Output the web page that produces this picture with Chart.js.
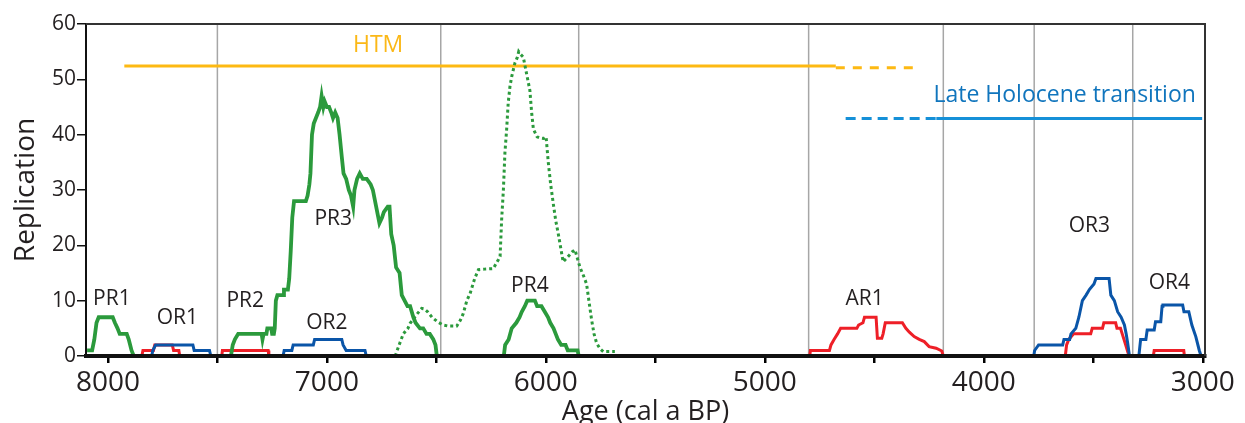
<!DOCTYPE html>
<html>
<head>
<meta charset="utf-8">
<script src="https://cdn.jsdelivr.net/npm/chart.js@4.4.1/dist/chart.umd.min.js"></script>
<style>
  html, body { margin: 0; padding: 0; background: #ffffff; }
  #chart { display: block; }
</style>
</head>
<body>
<canvas id="chart" width="1245" height="423"></canvas>
<script>
// ---- Replication counts through time: [age (cal a BP), count] ----
const PR1 = [[8095,1],[8072,1],[8062,3],[8052,6],[8042,7],[8028,7],[7978,7],[7968,6],[7956,5],[7946,4],[7914,4],[7905,3],[7892,1],[7882,0]];
const PR2_PR3 = [[7438,0],[7430,2],[7420,3],[7405,4],[7298,4],[7294,3],[7289,4],[7276,4],[7272,5],[7254,5],[7250,4],[7242,4],[7238,5],[7233,10],[7226,11],[7200,11],[7196,12],[7178,12],[7172,14],[7165,19],[7158,25],[7150,28],[7096,28],[7088,29],[7080,31],[7075,33],[7068,40],[7060,42],[7050,43],[7040,44],[7031,45],[7024,47],[7016,45],[7010,46],[7000,45],[6990,45],[6980,44],[6972,43],[6962,44],[6951,43],[6942,40],[6932,36],[6924,33],[6912,32],[6900,30],[6890,29],[6880,27],[6874,30],[6862,32],[6850,33],[6836,32],[6818,32],[6800,31],[6790,30],[6775,27],[6760,24],[6748,25],[6740,26],[6722,27],[6714,27],[6706,22],[6695,20],[6684,16],[6668,15],[6658,11],[6645,10],[6632,9],[6620,9],[6605,7],[6595,6],[6575,5],[6560,5],[6545,4],[6530,4],[6514,3],[6504,2],[6498,0]];
const PR4 = [[6300,0],[6192,0],[6186,2],[6170,3],[6156,5],[6135,6],[6120,7],[6110,8],[6096,9],[6085,10],[6050,10],[6040,9],[6020,9],[6005,8],[5990,7],[5980,6],[5965,5],[5955,4],[5945,3],[5930,2],[5910,2],[5900,1],[5855,1],[5850,0]];
const PR_ALL = [[6688,0],[6670,2],[6651,4],[6630,5],[6620,5.9],[6590,7.5],[6567,8.6],[6555,8.5],[6540,8],[6520,7],[6495,6.2],[6470,5.6],[6445,5.4],[6407,5.4],[6390,6.5],[6377,7.7],[6361,10],[6346,11.3],[6325,14],[6308,15.6],[6280,15.7],[6240,15.8],[6217,17.4],[6209,18],[6202,24.6],[6194,30],[6187,36.7],[6179,41],[6172,45.7],[6164,48.7],[6156,50.5],[6141,53],[6130,54],[6124,55],[6115,54.5],[6103,54],[6088,51],[6073,48],[6065,44],[6057,41],[6040,39.6],[6027,39.4],[6010,39.3],[5999,39.6],[5989,35],[5978,31],[5966,27.5],[5955,24.5],[5943,22],[5932,19.5],[5921,17],[5910,17.5],[5898,18],[5880,18.8],[5867,19.2],[5855,17.5],[5844,16],[5828,14.5],[5814,13],[5800,9],[5791,6.5],[5780,4],[5768,2.3],[5752,1.3],[5738,0.8],[5685,0.8]];

const OR1_R = [[7845,0],[7840,1],[7792,1],[7786,2],[7706,2],[7700,1],[7676,1],[7672,0]];
const PR2_R = [[7480,0],[7477,1],[7268,1],[7265,0]];
const AR1 = [[4795,0],[4792,1],[4705,1],[4698,2],[4684,3],[4668,4],[4654,5],[4580,5],[4572,5.6],[4552,6],[4545,7],[4492,7],[4486,3.2],[4466,3.2],[4460,4],[4450,6],[4372,6],[4356,5],[4340,4.3],[4318,3.5],[4295,3],[4272,2.6],[4250,1.7],[4218,1.4],[4192,0.9],[4185,0]];
const OR3_R = [[3628,0],[3622,2],[3612,3],[3590,4],[3512,4],[3505,5],[3458,5],[3452,6],[3398,6],[3392,5],[3376,5],[3368,4],[3352,2],[3337,0]];
const OR4_R = [[3226,0],[3222,1],[3087,1],[3084,0]];

const OR1_B = [[7800,0],[7795,1],[7782,2],[7612,2],[7606,1],[7536,1],[7530,0]];
const OR2_B = [[7200,0],[7195,1],[7160,1],[7154,2],[7062,2],[7056,3],[6932,3],[6926,2],[6912,1],[6826,1],[6820,0]];
const OR3_B = [[3900,0],[3772,0],[3768,1],[3750,2],[3640,2],[3634,3],[3608,3],[3602,4],[3580,5],[3566,7],[3550,10],[3533,11],[3518,12],[3497,13],[3488,14],[3428,14],[3420,11],[3404,10],[3389,8],[3373,7],[3358,5.6],[3350,4],[3343,2.3],[3335,0]];
const OR4_B = [[3292,0],[3284,3],[3260,3],[3254,4.7],[3222,4.7],[3216,6.2],[3192,6.2],[3186,9],[3182,9.2],[3092,9.2],[3086,8],[3064,8],[3050,5.6],[3032,3.5],[3016,1],[3008,0]];

// Climate phases
const HTM_FIRM = [[7925,52.4],[4676,52.4]];
const HTM_FUZZY = [[4676,52.1],[4316,52.1]];
const LHT_FUZZY = [[4631,42.9],[4217,42.9]];
const LHT_FIRM = [[4217,42.9],[3003,42.9]];

// Period boundaries (cal a BP)
const BOUNDARIES = [7500, 6480, 5850, 4800, 4185, 3770, 3320];

// Axis ticks
const X_TICKS = [8000, 7500, 7000, 6500, 6000, 5500, 5000, 4500, 4000, 3500, 3000];
const X_LABELED = [8000, 7000, 6000, 5000, 4000, 3000];
const Y_TICKS = [0, 10, 20, 30, 40, 50, 60];

// Label anchors [text, age, count]
const LABELS = [
  ['PR1', 7982, 10.3], ['OR1', 7683, 6.9], ['PR2', 7373, 9.9], ['OR2', 7000, 6.0],
  ['PR3', 6971, 24.8], ['PR4', 6073, 12.6], ['AR1', 4544, 10.3], ['OR3', 3518, 23.5],
  ['OR4', 3153, 13.2]
];
const PHASE_LABELS = [
  ['HTM', 6766, 56.1, '#fbb817'],
  ['Late Holocene transition', 3631, 47.0, '#1075bd']
];

const GREEN = '#2b9a3c', RED = '#ee1f27', BLUE = '#0a55a8';
const FONT = '"Open Sans", "Noto Sans", sans-serif';
const INK = '#231f20';

const pts = arr => arr.map(([x, y]) => ({ x, y }));
function series(data, color, width, dash) {
  return {
    data: pts(data), borderColor: color, borderWidth: width, borderDash: dash || [],
    pointRadius: 0, fill: false, tension: 0, borderCapStyle: 'butt', borderJoinStyle: 'miter'
  };
}

const datasets = [
  series(PR1, GREEN, 3.8), series(PR2_PR3, GREEN, 3.8), series(PR4, GREEN, 3.8),
  series(PR_ALL, GREEN, 3, [3, 3]),
  series(OR1_B, BLUE, 3), series(OR2_B, BLUE, 3), series(OR3_B, BLUE, 3), series(OR4_B, BLUE, 3),
  series(OR1_R, RED, 3), series(PR2_R, RED, 3), series(AR1, RED, 3), series(OR3_R, RED, 3), series(OR4_R, RED, 3),
  series(HTM_FIRM, '#fdb913', 3), series(HTM_FUZZY, '#fdb913', 3, [9, 8]),
  series(LHT_FUZZY, '#1590d8', 3, [10, 6]), series(LHT_FIRM, '#1590d8', 3)
];

// Boundaries under the data, frame and labels over it
const decorations = {
  id: 'decorations',
  beforeDatasetsDraw(chart) {
    const { ctx, chartArea: a, scales: { x } } = chart;
    ctx.save();
    ctx.strokeStyle = '#a6a6a6';
    ctx.lineWidth = 1.5;
    BOUNDARIES.forEach(v => {
      const px = x.getPixelForValue(v);
      ctx.beginPath(); ctx.moveTo(px, a.top); ctx.lineTo(px, a.bottom); ctx.stroke();
    });
    ctx.restore();
  },
  afterDraw(chart) {
    const { ctx, chartArea: a, scales: { x, y } } = chart;
    ctx.save();
    ctx.strokeStyle = '#333333';
    ctx.lineWidth = 2;
    ctx.beginPath();
    ctx.moveTo(a.left, a.top); ctx.lineTo(a.right, a.top); ctx.lineTo(a.right, a.bottom);
    ctx.stroke();
    ctx.textAlign = 'center';
    ctx.textBaseline = 'middle';
    ctx.fillStyle = INK;
    ctx.font = '21px ' + FONT;
    LABELS.forEach(([t, vx, vy]) => ctx.fillText(t, x.getPixelForValue(vx), y.getPixelForValue(vy)));
    ctx.font = '23px ' + FONT;
    PHASE_LABELS.forEach(([t, vx, vy, c]) => {
      ctx.fillStyle = c;
      ctx.fillText(t, x.getPixelForValue(vx), y.getPixelForValue(vy));
    });
    ctx.restore();
  }
};

new Chart(document.getElementById('chart'), {
  type: 'line',
  data: { datasets },
  plugins: [decorations],
  options: {
    responsive: false,
    animation: false,
    devicePixelRatio: 1,
    layout: { padding: { left: 0, right: 40, top: 24, bottom: 0 } },
    plugins: { legend: { display: false }, tooltip: { enabled: false } },
    scales: {
      x: {
        type: 'linear', reverse: true, min: 2990, max: 8100,
        afterBuildTicks: axis => { axis.ticks = X_TICKS.map(v => ({ value: v })); },
        afterFit: axis => { axis.height = 67; },
        ticks: {
          autoSkip: false, maxRotation: 0, padding: 3, color: INK,
          font: { family: FONT, size: 28 },
          callback: v => X_LABELED.includes(v) ? String(v) : ''
        },
        grid: { drawOnChartArea: false, drawTicks: true, tickLength: 7, color: '#000000', lineWidth: 2.5 },
        border: { display: true, color: '#111111', width: 4, z: 1 },
        title: {
          display: true, text: 'Age (cal a BP)', color: INK,
          font: { family: FONT, size: 27, lineHeight: 1 }, padding: { top: 0, bottom: -3 }
        }
      },
      y: {
        type: 'linear', min: 0, max: 60,
        afterBuildTicks: axis => { axis.ticks = Y_TICKS.map(v => ({ value: v })); },
        afterFit: axis => { axis.width = 86; },
        ticks: { padding: 1, color: INK, font: { family: FONT, size: 21 } },
        grid: { drawOnChartArea: false, drawTicks: true, tickLength: 9, color: '#111111', lineWidth: 1.5 },
        border: { display: true, color: '#111111', width: 2 },
        title: {
          display: true, text: 'Replication', color: INK,
          font: { family: FONT, size: 28, lineHeight: 1.2 }, padding: { top: 9, bottom: 0 }
        }
      }
    }
  }
});
</script>
</body>
</html>
